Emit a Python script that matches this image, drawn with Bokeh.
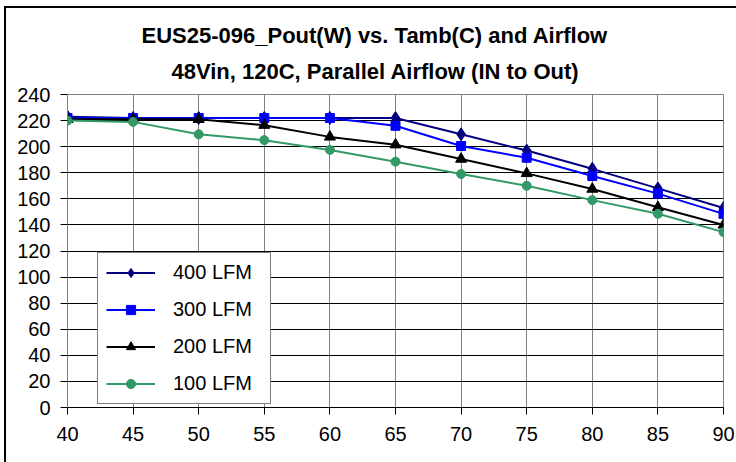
from bokeh.plotting import figure
from bokeh.models import Legend, LegendItem, Title, SingleIntervalTicker, Range1d
from bokeh.embed import file_html
from bokeh.resources import INLINE

temps = [40, 45, 50, 55, 60, 65, 70, 75, 80, 85, 90]
lfm400 = [223, 222, 222, 222, 222, 222, 209.5, 197, 183, 168, 153]
lfm300 = [222, 222, 222, 222, 222, 216, 200.5, 191.5, 177.5, 164, 148.5]
lfm200 = [221, 221, 221, 216.5, 207.5, 201.5, 190.5, 179.5, 167.5, 153.5, 140]
lfm100 = [220, 219, 209.5, 205, 197.5, 188.5, 179, 170, 159, 148.5, 134.5]
series_names = ["400 LFM", "300 LFM", "200 LFM", "100 LFM"]
title_lines = ["EUS25-096_Pout(W) vs. Tamb(C) and Airflow",
               "48Vin, 120C, Parallel Airflow (IN to Out)"]

FONT = "Liberation Sans"

p = figure(width=730, height=454, output_backend="svg", toolbar_location=None,
           x_range=Range1d(40, 90), y_range=Range1d(0, 240),
           min_border_left=61, min_border_right=13, min_border_top=86, min_border_bottom=55)
p.frame_width = 656
p.frame_height = 313

p.outline_line_color = "#808080"
p.outline_line_width = 1

for line, off, so in zip(reversed(title_lines), [104, 74], [17, 2]):
    p.add_layout(Title(text=line, align="left", offset=off, standoff=so,
                       vertical_align="top",
                       text_font=FONT, text_font_size="22px", text_font_style="bold",
                       text_color="black"), "above")

p.xaxis.ticker = SingleIntervalTicker(interval=5)
p.yaxis.ticker = SingleIntervalTicker(interval=20)
for ax in (p.xaxis[0], p.yaxis[0]):
    ax.major_label_text_font = FONT
    ax.major_label_text_font_size = "20px"
    ax.major_label_text_color = "black"
    ax.minor_tick_line_color = None
    ax.major_tick_in = 0
    ax.major_tick_out = 7
    ax.major_tick_line_color = "black"
p.xaxis.axis_line_color = "black"
p.yaxis.axis_line_color = "#808080"
p.yaxis.major_label_standoff = 10
p.xaxis.major_label_standoff = 12

p.xgrid.grid_line_color = "#808080"
p.ygrid.grid_line_color = "black"
p.xgrid.ticker = SingleIntervalTicker(interval=5)
p.ygrid.ticker = SingleIntervalTicker(interval=20)

items = []
specs = [
    (lfm400, "#000080", "diamond", 13),
    (lfm300, "#0000FF", "square", 9),
    (lfm200, "#000000", "triangle", 11),
    (lfm100, "#339966", "circle", 9),
]
for name, (vals, color, marker, size) in zip(series_names, specs):
    r1 = p.line(temps, vals, line_color=color, line_width=2)
    r2 = p.scatter(temps, vals, marker=marker, size=size, fill_color=color, line_color=color)
    items.append(LegendItem(label=name, renderers=[r1, r2]))

legend = Legend(items=items, location=(30, 3), orientation="vertical",
                label_text_font=FONT, label_text_font_size="20px", label_text_color="black",
                glyph_width=49, glyph_height=23, label_height=23, label_width=89,
                label_standoff=18, spacing=14, padding=8, margin=0,
                border_line_color="black", border_line_width=1,
                background_fill_alpha=1.0)
p.add_layout(legend, "center")

p.styles = {"border-left": "2px solid black", "border-top": "2px solid black",
            "margin-left": "4px", "margin-top": "6px"}

open("out.html", "w").write(file_html(p, INLINE))
